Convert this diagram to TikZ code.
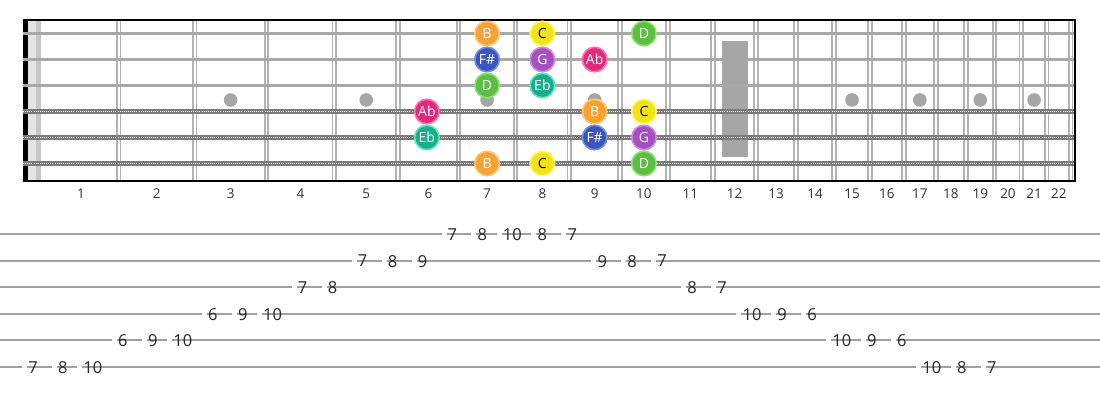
\documentclass[tikz,border=0pt]{standalone}
\usepackage{fontspec}
\setmainfont{Open Sans}
\usetikzlibrary{calc}
\definecolor{fretgray}{HTML}{B3B3B3}
\definecolor{strgray}{HTML}{A8A8A8}
\definecolor{woundgray}{HTML}{7A7A7A}
\definecolor{markgray}{HTML}{A6A6A6}
\definecolor{tabgray}{HTML}{A0A0A0}
\definecolor{nutlight}{HTML}{E4E4E4}
\definecolor{nutmid}{HTML}{C6C6C6}
\definecolor{fB}{HTML}{F7A237}\definecolor{bB}{HTML}{FFC870}
\definecolor{fC}{HTML}{F2E316}\definecolor{bC}{HTML}{FFF47A}
\definecolor{fD}{HTML}{5DBE45}\definecolor{bD}{HTML}{8AE56E}
\definecolor{fF}{HTML}{3B56B8}\definecolor{bF}{HTML}{6F8FEA}
\definecolor{fG}{HTML}{A550BF}\definecolor{bG}{HTML}{CF8AE6}
\definecolor{fA}{HTML}{E22A7C}\definecolor{bA}{HTML}{FF6EAE}
\definecolor{fE}{HTML}{17AE8B}\definecolor{bE}{HTML}{62E5C0}
\tikzset{
  declare function={fx(\n)=38.5+1435*(1-pow(2,-\n/12));},
  fretwire/.style={draw=fretgray,line width=1.8pt},
  plainstr/.style={draw=strgray,line width=2.6pt},
  woundbase/.style={draw=woundgray,line width=4.2pt},
  woundtop/.style={draw=white,line width=1.8pt,dash pattern=on 0.9pt off 1.2pt},
  inlay/.style={fill=markgray},
  fretlab/.style={font=\fontsize{13.5}{15}\selectfont,text=black!80,inner sep=0pt},
  tabline/.style={draw=tabgray,line width=2pt},
  tabnum/.style={font=\fontsize{16.5}{18}\selectfont,text=black!85,inner sep=0pt},
  note/.style={circle,minimum size=24.5pt,inner sep=0pt,line width=1.6pt,
    font=\fontsize{14}{15}\selectfont,text=white},
  nB/.style={note,fill=fB,draw=bB},
  nC/.style={note,fill=fC,draw=bC,text=black},
  nD/.style={note,fill=fD,draw=bD},
  nF/.style={note,fill=fF,draw=bF},
  nG/.style={note,fill=fG,draw=bG},
  nA/.style={note,fill=fA,draw=bA},
  nE/.style={note,fill=fE,draw=bE},
}
\begin{document}
\begin{tikzpicture}[x=1pt,y=-1pt]
\useasboundingbox (0,0) rectangle (1100,400);
\fill[white] (0,0) rectangle (1100,400);
% nut
\fill[black] (23,19) rectangle (28,181);
\fill[nutlight] (28,20) rectangle (36,180);
\fill[nutmid] (36,20) rectangle (41,180);
% twelfth fret marker and inlays
\fill[markgray] (722,41) rectangle (748,157);
\foreach \n in {3,5,7,9,15,17,19,21}
  \fill[inlay] ({(fx(\n-1)+fx(\n))/2},100) circle (6.8);
% frets
\foreach \n in {1,...,22}{
  \draw[fretwire] ({fx(\n)-1.8},20) -- ({fx(\n)-1.8},180);
  \draw[fretwire] ({fx(\n)+1.8},20) -- ({fx(\n)+1.8},180);
}
% strings
\foreach \y in {33.5,59.5,85.5}
  \draw[plainstr] (23,\y) -- (1074,\y);
\foreach \y in {111.5,137.5,163.5}{
  \draw[woundbase] (23,\y) -- (1074,\y);
  \draw[woundtop] (23,\y) -- (1074,\y);
}
% border
\draw[black,line width=2pt] (23,20) -- (1074.5,20);
\draw[black,line width=2pt] (23,180.5) -- (1074.5,180.5);
\draw[black,line width=2pt] (1074.5,19) -- (1074.5,181.5);
% fret numbers
\node[fretlab] (fl1) at (81,194) {1};
\foreach \n in {2,...,22}
  \node[fretlab] (fl\n) at ({(fx(\n-1)+fx(\n))/2},194) {\n};
% notes
\node[nB] (s1a) at ({(fx(6)+fx(7))/2},33.5) {B};
\node[nC] (s1b) at ({(fx(7)+fx(8))/2},33.5) {C};
\node[nD] (s1c) at ({(fx(9)+fx(10))/2},33.5) {D};
\node[nF] (s2a) at ({(fx(6)+fx(7))/2},59.5) {F\#};
\node[nG] (s2b) at ({(fx(7)+fx(8))/2},59.5) {G};
\node[nA] (s2c) at ({(fx(8)+fx(9))/2},59.5) {Ab};
\node[nD] (s3a) at ({(fx(6)+fx(7))/2},85.5) {D};
\node[nE] (s3b) at ({(fx(7)+fx(8))/2},85.5) {Eb};
\node[nA] (s4a) at ({(fx(5)+fx(6))/2-1.5},111.5) {Ab};
\node[nB] (s4b) at ({(fx(8)+fx(9))/2},111.5) {B};
\node[nC] (s4c) at ({(fx(9)+fx(10))/2},111.5) {C};
\node[nE] (s5a) at ({(fx(5)+fx(6))/2-1.5},137.5) {Eb};
\node[nF] (s5b) at ({(fx(8)+fx(9))/2},137.5) {F\#};
\node[nG] (s5c) at ({(fx(9)+fx(10))/2},137.5) {G};
\node[nB] (s6a) at ({(fx(6)+fx(7))/2},163.5) {B};
\node[nC] (s6b) at ({(fx(7)+fx(8))/2},163.5) {C};
\node[nD] (s6c) at ({(fx(9)+fx(10))/2},163.5) {D};
% tab lines
\foreach \l in {1,...,6}
  \draw[tabline] (0,{234+(\l-1)*26.6}) -- (1100,{234+(\l-1)*26.6});
% tab numbers
\foreach \i/\l/\v in {0/6/7,1/6/8,2/6/10,3/5/6,4/5/9,5/5/10,6/4/6,7/4/9,8/4/10,
  9/3/7,10/3/8,11/2/7,12/2/8,13/2/9,14/1/7,15/1/8,16/1/10,17/1/8,18/1/7,
  19/2/9,20/2/8,21/2/7,22/3/8,23/3/7,24/4/10,25/4/9,26/4/6,27/5/10,28/5/9,
  29/5/6,30/6/10,31/6/8,32/6/7}{
  \node[tabnum] (t\i) at ({33+29.96*\i},{234+(\l-1)*26.6+0.5}) {\v};
  \fill[white] ($(t\i.west)+(-6,-1.8)$) rectangle ($(t\i.west)+(-1,1.8)$);
}
\end{tikzpicture}
\end{document}
